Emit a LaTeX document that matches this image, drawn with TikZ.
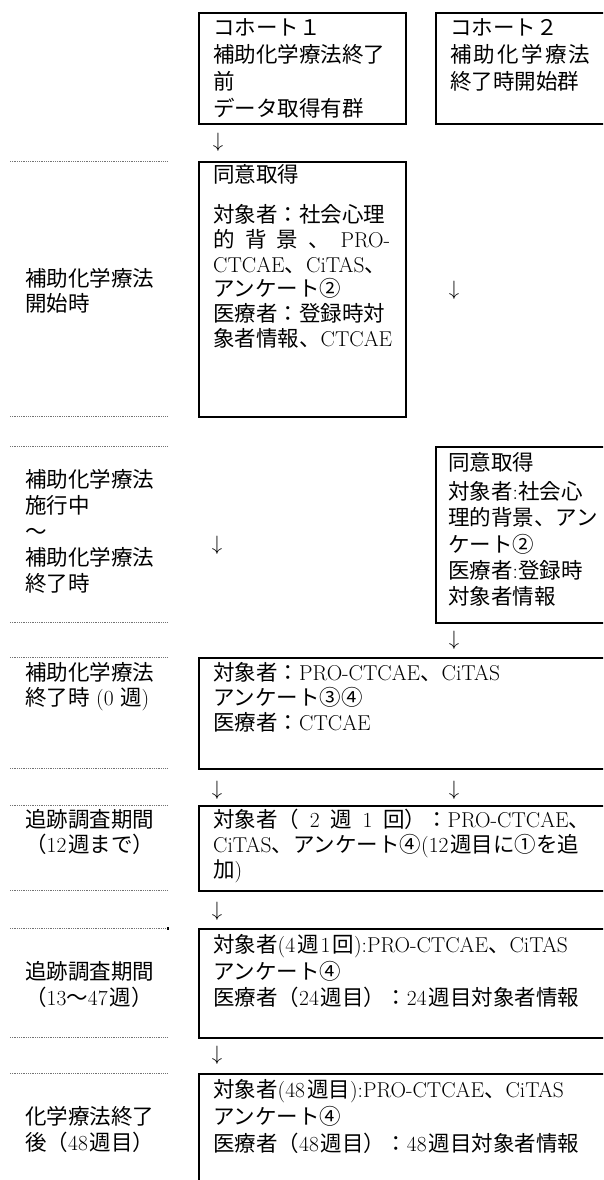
\documentclass[tikz,border=0pt]{standalone}
\usepackage{fontspec}
\newfontfamily\jpfont{Noto Sans CJK JP}
\XeTeXinterchartokenstate=1
\newXeTeXintercharclass\cjkcls
\makeatletter
\def\setcls#1#2{\count@=#1\relax\loop\XeTeXcharclass\count@=\cjkcls\ifnum\count@<#2\advance\count@ by 1\repeat}
\makeatother
\setcls{"3000}{"30FF}
\setcls{"4E00}{"9FFF}
\setcls{"FF00}{"FFEF}
\setcls{"2460}{"24FF}
\XeTeXinterchartoks 0 \cjkcls = {\jpfont}
\XeTeXinterchartoks 4095 \cjkcls = {\jpfont}
\XeTeXinterchartoks \cjkcls 0 = {\normalfont}
\XeTeXinterchartoks \cjkcls 4095 = {\normalfont}
\newcommand\fsz{\fontsize{21.5pt}{26pt}\selectfont}
\newcommand\ml[3]{\parbox[t]{#1}{\fontsize{21.5pt}{#2}\selectfont\raggedright #3}}
\newcommand\spr[2]{\leavevmode\hbox to #1{#2}}
\begin{document}
\begin{tikzpicture}[x=1pt,y=-1pt,
  box/.style={draw=black, line width=2.2pt, inner sep=0pt, anchor=north west},
  txt/.style={anchor=base west, inner sep=0pt, font=\fsz},
  arr/.style={inner sep=0pt, font=\fsz},
  dotln/.style={draw=black!55, line width=0.9pt, dash pattern=on 0.9pt off 0.9pt}]
\useasboundingbox (0,0) rectangle (603,1180);
\clip (0,0) rectangle (603,1180);

% boxes
\node[box, minimum width=207pt, minimum height=111pt] (c1) at (198,12) {};
\node[box, minimum width=200pt, minimum height=111pt] (c2) at (435,12) {};
\node[box, minimum width=207pt, minimum height=255pt] (bA) at (198,161) {};
\node[box, minimum width=200pt, minimum height=176pt] (bB) at (435,446) {};
\node[box, minimum width=440pt, minimum height=111pt] (bC) at (198,657) {};
\node[box, minimum width=440pt, minimum height=85pt] (bD) at (198,805) {};
\node[box, minimum width=440pt, minimum height=109pt] (bE) at (198,928) {};
\node[box, minimum width=440pt, minimum height=160pt] (bF) at (198,1073) {};

% dotted separators
\foreach \yy in {161,416,446,622,657,768,805,890,928,1037,1073}
  \draw[dotln] (10,\yy) -- (168,\yy);
\fill[black] (166.5,927) rectangle (168.5,929.5);

% box texts
\node[txt] (c1t) at (213,35.5) {\ml{188pt}{27pt}{コホート１\\補助化学療法終了\\前\\データ取得有群}};
\node[txt] (c2t) at (450,35.5) {\ml{160pt}{27pt}{コホート２\\\spr{140pt}{補\hfil 助\hfil 化\hfil 学\hfil 療\hfil 法}\\終了時開始群}};
\node[txt] (at0) at (213,182) {同意取得};
\node[txt] (at1) at (213,222.5) {\ml{188pt}{24.8pt}{対象者：社会心理\\\spr{177pt}{的\hfil 背\hfil 景\hfil 、\hfil PRO-}\\CTCAE、CiTAS、\\アンケート②\\医療者：登録時対\\象者情報、CTCAE}};
\node[txt] (bt0) at (448,470.5) {同意取得};
\node[txt] (bt1) at (448,499.5) {\ml{160pt}{26.25pt}{対象者:社会心\\理的背景、アン\\ケート②\\医療者:登録時\\対象者情報}};
\node[txt] (ct) at (213,680.5) {\ml{390pt}{25pt}{対象者：PRO-CTCAE、CiTAS\\アンケート③④\\医療者：CTCAE}};
\node[txt] (dt) at (213,827.5) {\ml{390pt}{25pt}{\spr{377pt}{対象者（\hfil 2\hfil 週\hfil 1\hfil 回）：PRO-CTCAE、}\\CiTAS、アンケート④(12\kern2pt 週目に①を追\\加)}};
\node[txt] (et) at (213,952.5) {\ml{390pt}{26.5pt}{対象者(4\kern2pt 週\kern2pt 1\kern2pt 回):PRO-CTCAE、CiTAS\\アンケート④\\医療者（24\kern2pt 週目）：24\kern2pt 週目対象者情報}};
\node[txt] (ft) at (213,1097.5) {\ml{390pt}{27pt}{対象者(48\kern2pt 週目):PRO-CTCAE、CiTAS\\アンケート④\\医療者（48\kern2pt 週目）：48\kern2pt 週目対象者情報}};

% period labels
\node[txt] (la) at (25,286.5) {\ml{145pt}{25pt}{補助化学療法\\開始時}};
\node[txt] (lb) at (25,487.5) {\ml{145pt}{26pt}{補助化学療法\\施行中\\〜\\補助化学療法\\終了時}};
\node[txt] (lc) at (25,680.5) {\ml{145pt}{25pt}{補助化学療法\\終了時 (0 週)}};
\node[txt] (ld) at (25,827.5) {\ml{145pt}{25pt}{追跡調査期間\\（12\kern2pt 週まで）}};
\node[txt] (le) at (25,979.5) {\ml{145pt}{26pt}{追跡調査期間\\（13〜47\kern2pt 週）}};
\node[txt] (lf) at (25,1124.5) {\ml{145pt}{26pt}{化学療法終了\\後（48\kern2pt 週目）}};

% arrows
\node[arr] (a1) at (218,142) {$\downarrow$};
\node[arr] (ra1) at (454,290) {$\downarrow$};
\node[arr] (a2) at (217,545) {$\downarrow$};
\node[arr] (ra2) at (454,640) {$\downarrow$};
\node[arr] (a3) at (217,790) {$\downarrow$};
\node[arr] (ra3) at (454,790) {$\downarrow$};
\node[arr] (a4) at (217,911) {$\downarrow$};
\node[arr] (a5) at (217,1055) {$\downarrow$};
\end{tikzpicture}
\end{document}
